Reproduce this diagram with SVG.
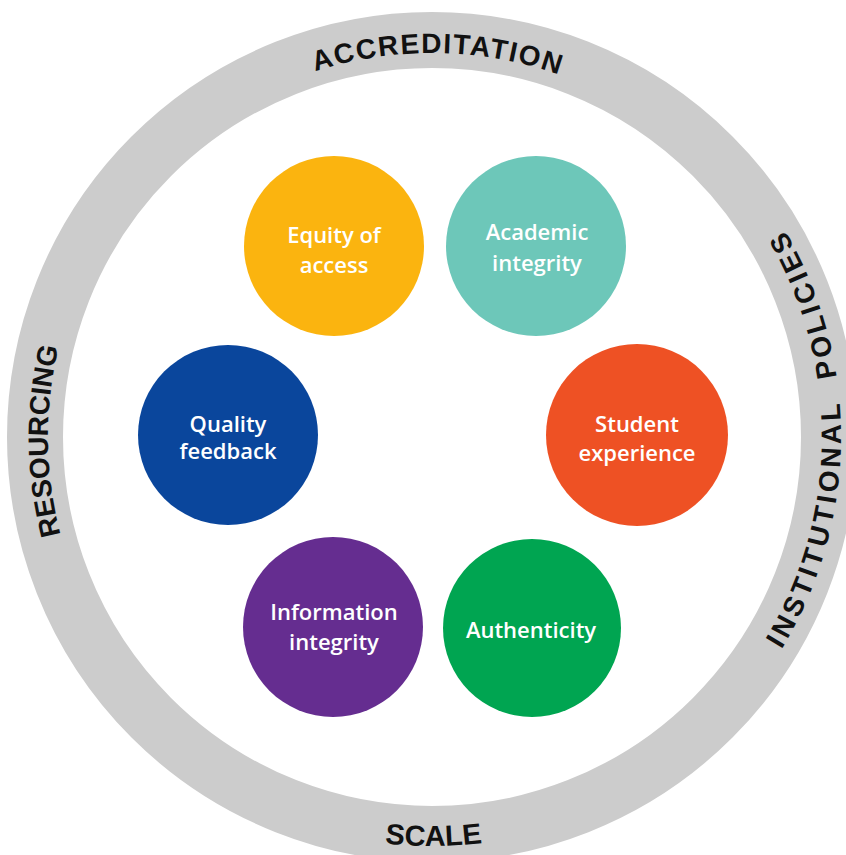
<svg xmlns="http://www.w3.org/2000/svg" width="846" height="855" viewBox="0 0 846 855">
  <style>
    .ring { fill: none; stroke: #cccccc; stroke-width: 56; }
    .rt { font-family: "Liberation Sans", Arial, sans-serif; font-weight: bold; font-size: 28px; fill: #111111; }
    .nt { font-family: "Open Sans", "Liberation Sans", sans-serif; font-weight: 600; font-size: 22px; fill: #ffffff; text-anchor: middle; }
  </style>
  <defs>
    <path id="cw" d="M 432 821 A 384 384 0 0 1 432 53 A 384 384 0 0 1 432 821"/>
    <path id="ccw" d="M 23 437 A 409 409 0 0 0 841 437 A 409 409 0 0 0 23 437"/>
  </defs>
  <rect width="846" height="855" fill="#ffffff"/>
  <g id="ring">
    <circle class="ring" cx="432" cy="437" r="397"/>
    <text class="rt"><textPath href="#cw" startOffset="1211" text-anchor="middle" textLength="248" lengthAdjust="spacing">ACCREDITATION</textPath></text>
    <text class="rt"><textPath href="#cw" startOffset="599" text-anchor="middle" textLength="190" lengthAdjust="spacing">RESOURCING</textPath></text>
    <text class="rt" style="font-size:29px"><textPath href="#ccw" startOffset="644" text-anchor="middle" textLength="98" lengthAdjust="spacing">SCALE</textPath></text>
    <text class="rt"><textPath href="#ccw" startOffset="1281" text-anchor="middle" textLength="440" lengthAdjust="spacing" xml:space="preserve">INSTITUTIONAL  POLICIES</textPath></text>
  </g>
  <g id="equity">
    <circle cx="334" cy="246" r="90" fill="#fbb40f"/>
    <text class="nt" x="334" y="243">Equity of</text>
    <text class="nt" x="334" y="273">access</text>
  </g>
  <g id="academic">
    <circle cx="536" cy="246" r="90" fill="#6dc7b9"/>
    <text class="nt" x="537" y="240">Academic</text>
    <text class="nt" x="537" y="271">integrity</text>
  </g>
  <g id="student">
    <circle cx="637" cy="435" r="91" fill="#ee5124"/>
    <text class="nt" x="637" y="432">Student</text>
    <text class="nt" x="637" y="461">experience</text>
  </g>
  <g id="quality">
    <circle cx="228" cy="435" r="90" fill="#0a469c"/>
    <text class="nt" x="228" y="432">Quality</text>
    <text class="nt" x="228" y="459">feedback</text>
  </g>
  <g id="information">
    <circle cx="333" cy="627" r="90" fill="#652d90"/>
    <text class="nt" x="334" y="620">Information</text>
    <text class="nt" x="334" y="650">integrity</text>
  </g>
  <g id="authenticity">
    <circle cx="532" cy="628" r="89" fill="#00a551"/>
    <text class="nt" x="531" y="638">Authenticity</text>
  </g>
  <g id="connectors"/>
</svg>
